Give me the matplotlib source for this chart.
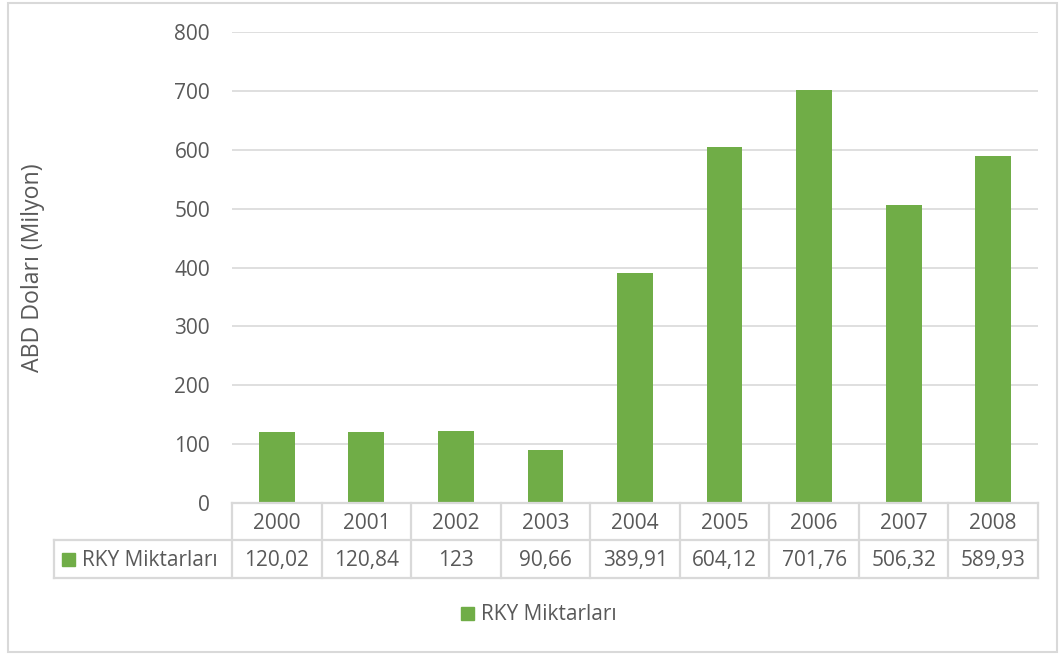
import matplotlib
matplotlib.use("Agg")
import matplotlib.pyplot as plt
from matplotlib.patches import Rectangle
from matplotlib.lines import Line2D
import matplotlib.transforms as mtransforms

# data
years = ['2000', '2001', '2002', '2003', '2004', '2005', '2006', '2007', '2008']
values = [120.02, 120.84, 123, 90.66, 389.91, 604.12, 701.76, 506.32, 589.93]
value_labels = ['120,02', '120,84', '123', '90,66', '389,91', '604,12', '701,76', '506,32', '589,93']
series_name = 'RKY Miktarları'
y_label = 'ABD Doları (Milyon)'
y_ticks = [0, 100, 200, 300, 400, 500, 600, 700, 800]

BAR_CLR = '#70ad47'
GRID_CLR = '#d9d9d9'
TXT_CLR = '#595959'
FS = 15

plt.rcParams['font.family'] = ['Open Sans', 'DejaVu Sans']

W, H = 1059, 654
fig = plt.figure(figsize=(W / 100, H / 100), dpi=100)

# plot area in pixels
x0, x1 = 232, 1038
y_top, y_bot = 32, 503
ax = fig.add_axes([x0 / W, 1 - y_bot / H, (x1 - x0) / W, (y_bot - y_top) / H])

xs = list(range(len(years)))
ax.bar(xs, values, width=0.4, color=BAR_CLR, zorder=3)
ax.set_xlim(-0.5, len(years) - 0.5)
ax.set_ylim(0, 800)
ax.set_yticks(y_ticks)
ax.set_yticklabels([str(t) for t in y_ticks])
ax.tick_params(axis='y', length=0, pad=15.8, labelsize=FS, labelcolor=TXT_CLR)
ax.set_xticks([])
ax.grid(axis='y', color=GRID_CLR, linewidth=1.2, zorder=0)
for s in ax.spines.values():
    s.set_visible(False)

# y axis label
fig.text(33 / W, 1 - 268 / H, y_label, rotation=90, ha='center', va='center',
         fontsize=16.7, color=TXT_CLR)

# data table below the axes, positioned in pixels
def fy(py):
    return 1 - py / H

def fx(px):
    return px / W

row1_top, row1_bot, row2_bot = 503, 540, 578
label_left = 54
tbl_kw = dict(color=GRID_CLR, linewidth=1.6, transform=fig.transFigure)
# horizontal lines
fig.add_artist(Line2D([fx(x0), fx(x1)], [fy(row1_top), fy(row1_top)], **tbl_kw))
fig.add_artist(Line2D([fx(label_left), fx(x1)], [fy(row1_bot), fy(row1_bot)], **tbl_kw))
fig.add_artist(Line2D([fx(label_left), fx(x1)], [fy(row2_bot), fy(row2_bot)], **tbl_kw))
fig.add_artist(Line2D([fx(label_left), fx(label_left)], [fy(row1_bot), fy(row2_bot)], **tbl_kw))
# vertical column separators from the axis scale
blend = mtransforms.blended_transform_factory(ax.transData, fig.transFigure)
for i in range(len(years) + 1):
    xb = i - 0.5
    fig.add_artist(Line2D([xb, xb], [fy(row1_top), fy(row2_bot)], color=GRID_CLR,
                          linewidth=1.6, transform=blend))
for i, (yr, lab) in enumerate(zip(years, value_labels)):
    fig.text(i, fy(529), yr, transform=blend, ha='center',
             va='baseline', fontsize=FS, color=TXT_CLR)
    fig.text(i, fy(566), lab, transform=blend, ha='center',
             va='baseline', fontsize=FS, color=TXT_CLR)

# legend key inside table
fig.add_artist(Rectangle((fx(62), fy(566)), 13 / W, 13 / H, color=BAR_CLR,
                         transform=fig.transFigure))
fig.text(fx(82), fy(566), series_name, ha='left', va='baseline', fontsize=FS, color=TXT_CLR)

# bottom legend
fig.add_artist(Rectangle((fx(461), fy(620)), 13 / W, 13 / H, color=BAR_CLR,
                         transform=fig.transFigure))
fig.text(fx(481), fy(620), series_name, ha='left', va='baseline', fontsize=FS, color=TXT_CLR)

# outer chart border
fig.add_artist(Rectangle((fx(8), fy(652)), (1057 - 8) / W, (652 - 3) / H, fill=False,
                         edgecolor=GRID_CLR, linewidth=1.5, transform=fig.transFigure))

fig.savefig('out.png', dpi=100, facecolor='white')
